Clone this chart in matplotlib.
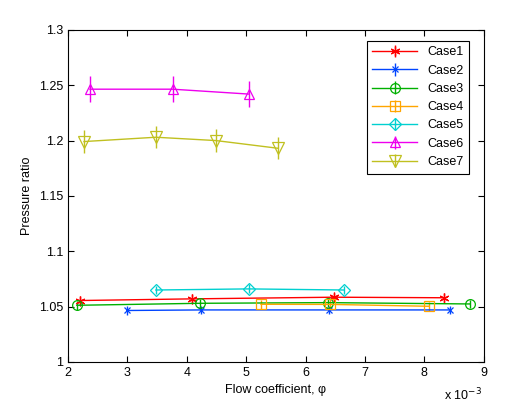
import matplotlib
matplotlib.use("Agg")
import matplotlib.pyplot as plt

plt.rcParams['font.family'] = ['Liberation Sans', 'DejaVu Sans']

case1_x = [2.20, 4.09, 6.48, 8.33]
case1_y = [1.0555, 1.057, 1.0585, 1.058]
case2_x = [2.99, 4.24, 6.40, 8.44]
case2_y = [1.0465, 1.047, 1.047, 1.047]
case3_x = [2.15, 4.23, 6.37, 8.77]
case3_y = [1.0512, 1.053, 1.0536, 1.0524]
case4_x = [5.25, 6.42, 8.08]
case4_y = [1.0521, 1.052, 1.0503]
case5_x = [3.48, 5.04, 6.65]
case5_y = [1.065, 1.066, 1.065]
case6_x = [2.37, 3.76, 5.04]
case6_y = [1.2464, 1.2464, 1.242]
case7_x = [2.27, 3.48, 4.49, 5.54]
case7_y = [1.1991, 1.203, 1.2, 1.193]

err_small = 0.004
err6 = 0.012
err7 = 0.010

labels = ['Case1', 'Case2', 'Case3', 'Case4', 'Case5', 'Case6', 'Case7']
colors = ['#ff0000', '#0044ff', '#00b000', '#ffa500', '#00d0d0', '#ee00ee', '#c0c020']
markers = [(6, 2, 0), 'x', 'o', 's', 'D', '^', 'v']
sizes = [7, 4, 7, 7, 6, 7, 8]
xs = [case1_x, case2_x, case3_x, case4_x, case5_x, case6_x, case7_x]
ys = [case1_y, case2_y, case3_y, case4_y, case5_y, case6_y, case7_y]
errs = [err_small] * 5 + [err6, err7]

fig = plt.figure(figsize=(5.31, 4.09), dpi=100)
ax = fig.add_axes([0.128, 0.115, 0.783, 0.812])

for x, y, e, c, m, ms, lab in zip(xs, ys, errs, colors, markers, sizes, labels):
    ax.errorbar(x, y, yerr=e, color=c, marker=m, ms=ms, mfc='none', mec=c,
                mew=0.9, lw=1.0, elinewidth=1.0, capsize=0, label=lab)

ax.set_xlim(2, 9)
ax.set_ylim(1, 1.3)
ax.set_xticks(range(2, 10))
ax.set_xticklabels([str(i) for i in range(2, 10)])
yt = [1, 1.05, 1.1, 1.15, 1.2, 1.25, 1.3]
ax.set_yticks(yt)
ax.set_yticklabels(['1', '1.05', '1.1', '1.15', '1.2', '1.25', '1.3'])
ax.tick_params(direction='in', top=True, right=True, labelsize=9, length=4, width=0.8)
for s in ax.spines.values():
    s.set_linewidth(0.8)
ax.set_xlabel('Flow coefficient, φ', fontsize=9)
ax.set_ylabel('Pressure ratio', fontsize=9)
ax.text(0.995, -0.115, 'x 10$^{-3}$', transform=ax.transAxes, ha='right', va='baseline', fontsize=9)

leg = ax.legend(loc='upper right', fontsize=9, frameon=True, fancybox=False,
                edgecolor='black', framealpha=1, handlelength=3.6, handletextpad=0.8,
                numpoints=1, bbox_to_anchor=(0.965, 0.967), borderaxespad=0,
                labelspacing=0.5, borderpad=0.45)
leg.get_frame().set_linewidth(0.8)

fig.savefig('out.png', dpi=100, facecolor='white')
